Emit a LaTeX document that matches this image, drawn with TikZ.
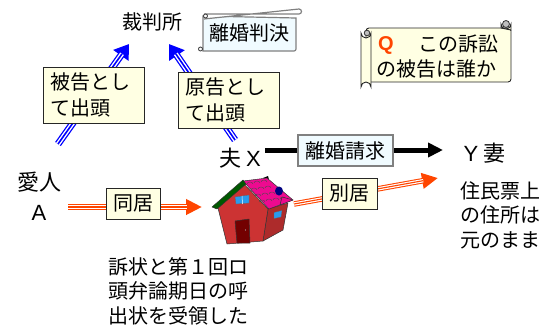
\documentclass[tikz,border=0pt]{standalone}
\usepackage{fontspec}
\setmainfont{Noto Sans CJK JP}
\newfontfamily\latinwide{Liberation Sans}
\usetikzlibrary{arrows.meta}
\definecolor{cream}{HTML}{FFFFE3}
\definecolor{paleblue}{HTML}{F0FBFF}
\definecolor{orangered}{HTML}{FF4500}
\definecolor{wall}{HTML}{CC3333}
\definecolor{roof}{HTML}{EE0A90}
\definecolor{winblue}{HTML}{2A9BEE}
\tikzset{
  jp/.style={inner sep=0pt,font=\fontsize{20}{24.5}\selectfont,text=black,align=left},
  jpbig/.style={jp,font=\fontsize{22}{30}\selectfont},
  labelbox/.style={jp,draw=black!85,line width=0.9pt,fill=cream,minimum width=#1},
  bluebox/.style={jp,draw=black!50,line width=1.2pt,fill=paleblue,minimum width=#1},
  tripleblue/.style={line width=7pt,draw=blue,-{Triangle[length=14pt,width=18pt]},shorten >=0pt,
     postaction={draw=white,line width=4.4pt,-,shorten >=12pt},
     postaction={draw=blue,line width=1.6pt,-,shorten >=12pt}},
  tripleorange/.style={line width=5.5pt,draw=orangered,-{Triangle[length=16pt,width=15pt]},
     postaction={draw=white,line width=3.4pt,-,shorten >=15pt},
     postaction={draw=orangered,line width=1.1pt,-,shorten >=15pt}},
  heavy/.style={line width=5pt,draw=black,-{Triangle[length=15pt,width=14pt]}},
  scrollline/.style={draw=black!50,line width=1.2pt},
  scrollcurl/.style={draw=black!80,line width=0.8pt,fill=black!25},
  houseedge/.style={draw=black!80,line width=0.5pt,line join=round},
}
\begin{document}
\begin{tikzpicture}[x=1pt,y=-1pt]
\useasboundingbox (0,0) rectangle (547,325);
% anchors of connectors
\coordinate (defFrom) at (58,144);
\coordinate (defTo) at (129,44);
\coordinate (plFrom) at (235,140);
\coordinate (plTo) at (169,44);
\coordinate (claimFrom) at (265,150);
\coordinate (claimTo) at (443,150);
\coordinate (liveFrom) at (68,207);
\coordinate (liveTo) at (202,207);
\coordinate (sepFrom) at (294,204);
\coordinate (sepTo) at (438,178);
% connectors
\draw[tripleblue] (defFrom) -- (defTo);
\draw[tripleblue] (plFrom) -- (plTo);
\draw[heavy] (claimFrom) -- (claimTo);
\draw[tripleorange] (liveFrom) -- (liveTo);
\draw[tripleorange] (sepFrom) -- (sepTo);
% plain texts
\node[jp] (court) at (152,22) {裁判所};
\node[jpbig] (husband) at (240,158) {夫\hspace{-1pt}{\latinwide\ X}};
\node[jpbig] (lover) at (39,182) {愛人};
\node[jpbig] (loverA) at (39,212.5) {{\latinwide A}};
\node[jpbig] (wife) at (484.5,153) {{\latinwide Y}\hspace{5pt}妻};
\node[jp] (note) at (178,291) {訴状と第１回ロ\\頭弁論期日の呼\\出状を受領した};
\node[jp] (juminhyo) at (500,215) {住民票上\\の住所は\\元のまま};
% label boxes
\node[labelbox=101pt,minimum height=56pt,font=\fontsize{20}{26.5}\selectfont] (defendant) at (93.5,95) {被告とし\hspace*{7pt}\\て出頭};
\node[labelbox=101pt,minimum height=56pt,font=\fontsize{20}{26.5}\selectfont] (plaintiff) at (228.5,100) {原告とし\hspace*{7pt}\\て出頭};
\node[labelbox=54pt,minimum height=31pt] (together) at (133,203.5) {同居};
\node[labelbox=55pt,minimum height=31pt] (apart) at (349.5,193.5) {別居};
\node[bluebox=95pt,minimum height=31pt] (claim) at (345.5,150.5) {離婚請求};
% judgment scroll
\draw[scrollline,fill=paleblue] (203,16) -- (203,51) -- (294,51) arc (90:0:2) -- (296,18) -- cycle;
\draw[scrollline,fill=white] (204,14) -- (299,14) arc (90:-90:2.5) -- (204,19);
\draw[scrollcurl,fill=white] (205.5,16) circle (2);
\draw[scrollcurl,fill=white] (200.5,49) circle (2);
\node[jp] (judgment) at (249,33) {離婚判決};
% question scroll
\draw[draw=black!85,line width=0.9pt,fill=cream,rounded corners=3pt] (366,28) -- (511,28) -- (511,82) -- (366,82) -- cycle;
\draw[draw=black!85,line width=0.9pt,fill=cream] (501,28) -- (501,24) arc (180:0:5) -- (511,30) -- cycle;
\draw[scrollcurl] (506,24) circle (3.5);
\draw[draw=black!85,line width=0.9pt,fill=cream] (361,33) arc (180:0:5) -- (371,87) arc (0:-180:5) -- cycle;
\draw[scrollcurl] (367,33) circle (2.8);
\node[jp,text=orangered,font=\fontsize{20}{20}\selectfont\latinwide\bfseries] (qmark) at (386,45.5) {Q};
\node[jp] (qa) at (458,44) {この訴訟};
\node[jp] (qb) at (436.5,69) {の被告は誰か};
% house
\fill[black] (263,178) -- (268,176) -- (269,180) -- cycle;
\path[houseedge,fill=wall!85!black] (268,209) -- (288,203) -- (283,230) -- (263,241) -- cycle;
\path[houseedge,fill=wall] (218,208) -- (243,183) -- (268,209) -- (263,241) -- (227,244) -- cycle;
\path[houseedge,fill=roof] (243,181) -- (267,178) -- (293,200) -- (269,209) -- cycle;
% shingles
\foreach \x/\y in {250/183,257/182,264/181,254/189,261/188,268/187,258/195,265/194,272/193,262/201,269/200,276/199,283/198}{
  \draw[black!70,line width=0.4pt] (\x-3,\y+1) arc (180:360:3 and 2);
}
\fill[blue!50!black] (279,191) ellipse (4pt and 4.5pt);
\path[houseedge,fill=roof] (282,197) -- (293,200) -- (280,205) -- cycle;
\path[houseedge,fill=green!35!black] (212,207) -- (243,180) -- (246,184) -- (217,209) -- cycle;
\path[houseedge,fill=red!45!black] (235,221) -- (249,219) -- (250,243) -- (237,243) -- cycle;
\fill[white!70!black] (245.5,230) circle (0.7);
\path[draw=black!60,line width=0.3pt,fill=winblue] (235,197) -- (249,195) -- (249,203) -- (236,204) -- cycle;
\draw[white,line width=0.5pt] (242,196) -- (242.5,204);
\path[draw=black!60,line width=0.3pt,fill=winblue] (274,212.5) -- (282,210.5) -- (281,217) -- (274,218.5) -- cycle;
\end{tikzpicture}
\end{document}
